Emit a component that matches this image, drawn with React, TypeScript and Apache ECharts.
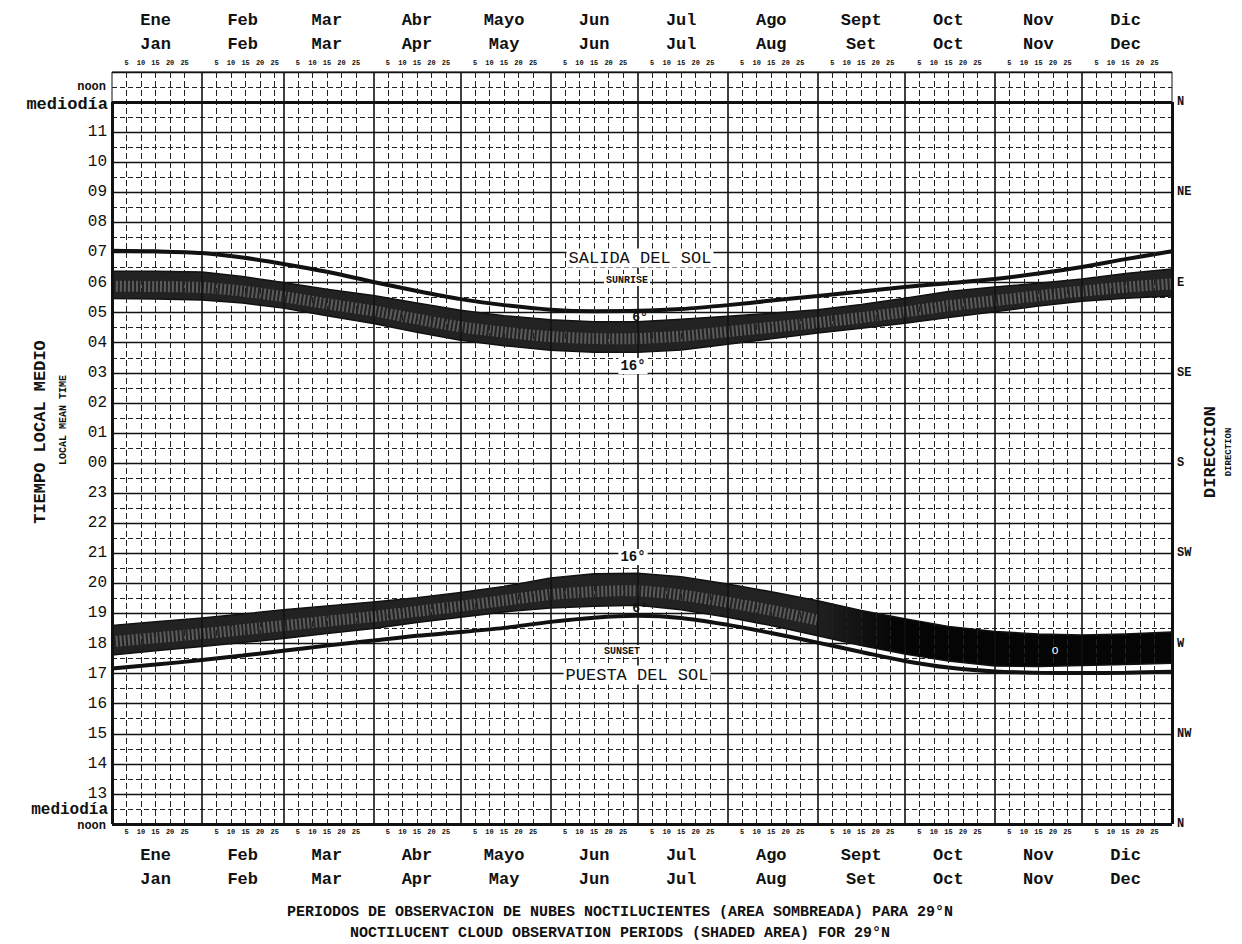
import React, { useEffect, useRef } from 'react';
import * as echarts from 'echarts';

// Day of year sampling points
const days = [0, 15, 31, 45, 59, 74, 90, 105, 120, 135, 151, 166, 181, 196, 212, 227, 243, 258, 273, 288, 304, 319, 334, 349, 365];

// Sunrise (local mean time, hours)
const sunriseHour = [7.06, 7.04, 6.98, 6.83, 6.62, 6.36, 6.02, 5.72, 5.45, 5.25, 5.1, 5.05, 5.06, 5.12, 5.25, 5.4, 5.55, 5.7, 5.85, 5.98, 6.12, 6.3, 6.52, 6.78, 7.04];
// Morning shaded band: sun 6 deg below horizon (upper edge) and 16 deg (lower edge)
const dawn6Hour = [6.38, 6.38, 6.35, 6.2, 6.0, 5.78, 5.57, 5.32, 5.08, 4.9, 4.76, 4.7, 4.7, 4.78, 4.88, 4.98, 5.1, 5.27, 5.48, 5.7, 5.85, 5.98, 6.12, 6.3, 6.45];
const dawn16Hour = [5.47, 5.45, 5.42, 5.32, 5.15, 4.9, 4.64, 4.35, 4.08, 3.9, 3.75, 3.68, 3.68, 3.76, 3.95, 4.13, 4.32, 4.48, 4.65, 4.84, 5.03, 5.22, 5.38, 5.48, 5.55];

// Sunset (local mean time, hours)
const sunsetHour = [17.17, 17.3, 17.45, 17.6, 17.76, 17.93, 18.1, 18.26, 18.38, 18.52, 18.72, 18.86, 18.92, 18.85, 18.62, 18.35, 18.03, 17.72, 17.42, 17.2, 17.07, 17.03, 17.02, 17.03, 17.06];
// Evening shaded band: 6 deg (lower edge) and 16 deg (upper edge)
const dusk6Hour = [17.62, 17.76, 17.9, 18.03, 18.17, 18.33, 18.5, 18.7, 18.87, 19.05, 19.18, 19.24, 19.27, 19.12, 18.87, 18.6, 18.26, 17.93, 17.65, 17.42, 17.25, 17.24, 17.27, 17.3, 17.34];
const dusk16Hour = [18.6, 18.72, 18.85, 18.98, 19.12, 19.25, 19.38, 19.52, 19.7, 19.9, 20.18, 20.32, 20.34, 20.22, 19.98, 19.72, 19.42, 19.1, 18.82, 18.57, 18.4, 18.32, 18.28, 18.32, 18.38];

const monthStarts = [0, 31, 59, 90, 120, 151, 181, 212, 243, 273, 304, 334, 365];
const monthsEs = ['Ene', 'Feb', 'Mar', 'Abr', 'Mayo', 'Jun', 'Jul', 'Ago', 'Sept', 'Oct', 'Nov', 'Dic'];
const monthsEn = ['Jan', 'Feb', 'Mar', 'Apr', 'May', 'Jun', 'Jul', 'Aug', 'Set', 'Oct', 'Nov', 'Dec'];
const dayMarks = [5, 10, 15, 20, 25];
const directionLabels = ['N', 'NE', 'E', 'SE', 'S', 'SW', 'W', 'NW', 'N'];

const FONT = '"Liberation Mono", "DejaVu Sans Mono", monospace';
const INK = '#111';

export default function App() {
  const ref = useRef<HTMLDivElement>(null);

  useEffect(() => {
    const chart = echarts.init(ref.current!, null, { renderer: 'svg' });

    // axis variable t: hours elapsed downward from noon (top) through midnight to noon (bottom)
    const toT = (h: number) => (h < 12 ? 12 - h : 36 - h);
    const pts = (arr: number[]) => days.map((d, i) => [d, toT(arr[i])]);

    const dayTickValues: number[] = [];
    const dayTickLabel: Record<number, string> = {};
    monthStarts.slice(0, -1).forEach((s) => {
      dayMarks.forEach((k) => {
        dayTickValues.push(s + k);
        dayTickLabel[s + k] = String(k);
      });
    });
    const monthMid: number[] = monthStarts.slice(0, -1).map((s, i) => s + Math.floor((monthStarts[i + 1] - s) / 2));
    const monthLabel = (v: number) => {
      const i = monthMid.indexOf(Math.round(v));
      return i >= 0 ? `${monthsEs[i]}\n${monthsEn[i]}` : '';
    };

    const vLines: any[] = [];
    monthStarts.slice(1, -1).forEach((d) =>
      vLines.push({ xAxis: d, lineStyle: { type: 'solid', width: 1.6, color: INK } })
    );
    monthStarts.slice(0, -1).forEach((s) =>
      dayMarks.forEach((k) =>
        vLines.push({ xAxis: s + k, lineStyle: { type: [6, 3], width: 1, color: '#222' } })
      )
    );
    const thick = { type: 'solid', width: 3, color: INK };
    vLines.push({ yAxis: 0, lineStyle: thick });
    vLines.push([{ coord: [0, 0], lineStyle: thick }, { coord: [0, 24] }]);
    vLines.push([{ coord: [365, 0], lineStyle: thick }, { coord: [365, 24] }]);
    vLines.push({ yAxis: 24, lineStyle: thick });

    const xBase = { type: 'value', min: 0, max: 365, axisLine: { show: false }, axisTick: { show: false }, splitLine: { show: false } };
    const dayLabelStyle = {
      customValues: dayTickValues,
      formatter: (v: number) => dayTickLabel[Math.round(v)] || '',
      fontFamily: FONT,
      fontSize: 7,
      fontWeight: 'bold',
      color: INK,
    };
    const monthLabelStyle = {
      customValues: monthMid,
      formatter: monthLabel,
      fontFamily: FONT,
      fontSize: 17,
      fontWeight: 'bold',
      lineHeight: 24,
      color: INK,
    };

    const text = (t: string, x: number, y: number, size: number, extra: any = {}) => ({
      type: 'text',
      x,
      y,
      style: {
        text: t,
        font: `${extra.weight || 'bold'} ${size}px ${FONT}`,
        fill: extra.fill || INK,
        align: extra.align || 'center',
        verticalAlign: 'middle',
        backgroundColor: extra.bg,
        padding: extra.bg ? [1, 2] : 0,
      },
      rotation: extra.rotation || 0,
      z: 100,
    });

    // shaded band between two edges, drawn through the axes' scales
    const band = (name: string, upper: number[], lower: number[], fill: any, texture: string | null, textureUntil: number) => ({
      type: 'custom',
      name,
      data: days.map((d, i) => [d, toT(upper[i]), toT(lower[i])]),
      encode: { x: 0, y: [1, 2] },
      clip: true,
      z: 3,
      renderItem: (params: any, api: any) => {
        if (params.dataIndex !== 0) return null;
        const n = params.dataInsideLength;
        const a: number[][] = [];
        const b: number[][] = [];
        const tex: number[][] = [];
        for (let i = 0; i < n; i++) {
          const x = api.value(0, i);
          const p = api.coord([x, api.value(1, i)]);
          const q = api.coord([x, api.value(2, i)]);
          a.push(p);
          b.push(q);
          if (x <= textureUntil) tex.push([p[0], p[1] + (q[1] - p[1]) * 0.55]);
        }
        const children: any[] = [
          {
            type: 'polygon',
            shape: { points: a.concat(b.slice().reverse()) },
            style: { fill, stroke: INK, lineWidth: 1.5, lineJoin: 'round' },
          },
        ];
        if (texture && tex.length > 1) {
          children.push({
            type: 'polyline',
            shape: { points: tex, smooth: 0.25 },
            style: { stroke: texture, lineWidth: 11, lineDash: [2, 2], fill: null, opacity: 0.8 },
          });
        }
        return { type: 'group', children };
      },
    });

    chart.setOption({
      animation: false,
      backgroundColor: '#fff',
      grid: { left: 112, right: 70, top: 72, bottom: 120, show: true, borderColor: INK, borderWidth: 1, backgroundColor: 'transparent' },
      xAxis: [
        { ...xBase, position: 'bottom', axisLabel: { ...dayLabelStyle, margin: 4 } },
        { ...xBase, position: 'bottom', axisLabel: { ...monthLabelStyle, margin: 19 } },
        { ...xBase, position: 'top', axisLabel: { ...dayLabelStyle, margin: 6 } },
        { ...xBase, position: 'top', axisLabel: { ...monthLabelStyle, margin: 16 } },
      ],
      yAxis: [
        {
          type: 'value',
          min: -1,
          max: 24,
          interval: 1,
          inverse: true,
          position: 'left',
          axisLine: { show: false },
          axisTick: { show: false },
          axisLabel: {
            margin: 5,
            fontFamily: FONT,
            fontSize: 16,
            color: INK,
            formatter: (t: number) => {
              if (t <= 0 || t >= 24) return '';
              const h = t <= 12 ? 12 - t : 36 - t;
              return String(h).padStart(2, '0');
            },
          },
          splitLine: { show: true, lineStyle: { color: INK, width: 1.3 } },
          minorTick: { show: false, splitNumber: 2 },
          minorSplitLine: { show: true, lineStyle: { color: '#222', width: 1, type: [5, 3] } },
        },
        {
          type: 'value',
          min: -1,
          max: 24,
          inverse: true,
          position: 'right',
          axisLine: { show: false },
          axisTick: { show: false },
          splitLine: { show: false },
          axisLabel: {
            customValues: [0, 3, 6, 9, 12, 15, 18, 21, 24],
            formatter: (t: number) => directionLabels[Math.round(t / 3)] || '',
            margin: 5,
            fontFamily: FONT,
            fontSize: 12,
            fontWeight: 'bold',
            color: INK,
          },
        },
      ],
      series: [
        {
          type: 'line',
          name: 'grid',
          data: [[0, 12]],
          symbol: 'none',
          lineStyle: { width: 0 },
          z: 1,
          markLine: { silent: true, symbol: ['none', 'none'], label: { show: false }, data: vLines, animation: false },
        },
        band('dawn', dawn6Hour, dawn16Hour, '#222', '#6a6a6a', 365),
        band(
          'dusk',
          dusk16Hour,
          dusk6Hour,
          new echarts.graphic.LinearGradient(0, 0, 1, 0, [
            { offset: 0, color: '#222' },
            { offset: 0.66, color: '#222' },
            { offset: 0.74, color: '#050505' },
            { offset: 1, color: '#050505' },
          ]),
          '#6a6a6a',
          250
        ),
        {
          type: 'line',
          name: 'sunrise',
          data: pts(sunriseHour),
          smooth: 0.3,
          symbol: 'none',
          lineStyle: { color: INK, width: 4 },
          z: 4,
        },
        {
          type: 'line',
          name: 'sunset',
          data: pts(sunsetHour),
          smooth: 0.3,
          symbol: 'none',
          lineStyle: { color: INK, width: 4 },
          z: 4,
        },
      ],
      graphic: [
        text('noon', 106, 87, 12, { align: 'right' }),
        text('mediodía', 108, 104, 17, { align: 'right' }),
        text('mediodía', 108, 810, 16, { align: 'right' }),
        text('noon', 106, 826, 12, { align: 'right' }),
        text('TIEMPO LOCAL MEDIO', 40, 432, 17, { rotation: Math.PI / 2 }),
        text('LOCAL MEAN TIME', 63, 420, 10, { rotation: Math.PI / 2 }),
        text('DIRECCION', 1210, 452, 17, { rotation: Math.PI / 2 }),
        text('DIRECTION', 1229, 452, 9, { rotation: Math.PI / 2 }),
        text('PERIODOS DE OBSERVACION DE NUBES NOCTILUCIENTES (AREA SOMBREADA) PARA 29°N', 620, 912, 15),
        text('NOCTILUCENT CLOUD OBSERVATION PERIODS (SHADED AREA) FOR 29°N', 620, 933, 15),
        text('SALIDA DEL SOL', 640, 258, 17, { weight: 'normal', bg: '#fff' }),
        text('SUNRISE', 627, 280, 10, { bg: '#fff' }),
        text('6°', 640, 317, 13),
        text('16°', 633, 366, 14, { bg: '#fff' }),
        text('16°', 633, 557, 14, { bg: '#fff' }),
        text('6°', 640, 608, 13),
        text('SUNSET', 622, 651, 10, { bg: '#fff' }),
        text('PUESTA DEL SOL', 637, 675, 17, { weight: 'normal', bg: '#fff' }),
        text('o', 1055, 651, 12, { fill: '#fff', weight: 'normal' }),
      ],
    });

    return () => chart.dispose();
  }, []);

  return (
    <div
      ref={ref}
      style={{ position: 'fixed', left: 0, top: 0, width: 1242, height: 944, background: '#fff' }}
    />
  );
}
